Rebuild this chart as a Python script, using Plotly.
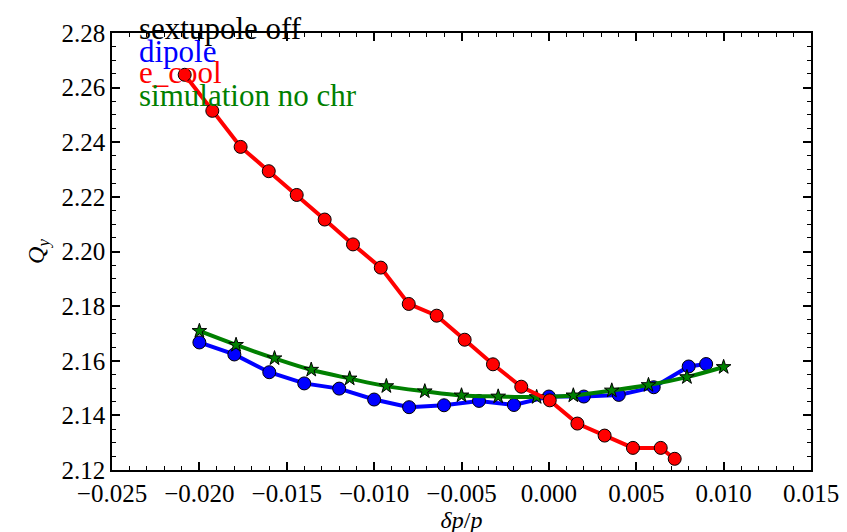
import plotly.graph_objects as go

# dipole (blue)
dip_x = [-0.020, -0.018, -0.016, -0.014, -0.012, -0.010, -0.008, -0.006,
         -0.004, -0.002, 0.000, 0.002, 0.004, 0.006, 0.008, 0.009]
dip_y = [2.1667, 2.1623, 2.1558, 2.1517, 2.1498, 2.1458, 2.1430, 2.1437,
         2.1453, 2.1438, 2.1469, 2.1469, 2.1475, 2.1503, 2.1579, 2.1588]

# e_cool (red)
ec_x = [-0.02084, -0.01926, -0.01764, -0.01603, -0.01443, -0.01283, -0.01121,
        -0.00962, -0.00802, -0.00642, -0.00482, -0.00320, -0.00158, 0.00005,
        0.00163, 0.00319, 0.00481, 0.00640, 0.00720]
ec_y = [2.2647, 2.2515, 2.2383, 2.2294, 2.2207, 2.2117, 2.2026,
        2.1941, 2.1808, 2.1765, 2.1677, 2.1587, 2.1505, 2.1455,
        2.1370, 2.1326, 2.1281, 2.1281, 2.1241]

# simulation no chr (green)
sim_x = [-0.0200, -0.0179, -0.0157, -0.0136, -0.0114, -0.0093, -0.0071, -0.0050,
         -0.0029, -0.0007, 0.0014, 0.0036, 0.0057, 0.0079, 0.0100]
sim_y = [2.1709, 2.1658, 2.1609, 2.1567, 2.1535, 2.1507, 2.1488, 2.1473,
         2.1469, 2.1467, 2.1473, 2.1491, 2.1511, 2.1540, 2.1577]

legend_labels = ["sextupole off", "dipole", "e_cool", "simulation no chr"]
legend_colors = ["#000000", "#0000ff", "#ff0000", "#008000"]
# vertical positions in paper fraction of the plot area
legend_y = [1.010, 0.9575, 0.9088, 0.8563]

x_ticks = [-0.025, -0.020, -0.015, -0.010, -0.005, 0.000, 0.005, 0.010, 0.015]
y_ticks = [2.12, 2.14, 2.16, 2.18, 2.20, 2.22, 2.24, 2.26, 2.28]

FONT = "Liberation Serif, Times New Roman, serif"

fig = go.Figure()
fig.add_trace(go.Scatter(
    x=dip_x, y=dip_y, mode="lines+markers",
    line=dict(color="#0000ff", width=4),
    marker=dict(symbol="circle", size=13, color="#0000ff",
                line=dict(color="black", width=1)),
    showlegend=False))
fig.add_trace(go.Scatter(
    x=sim_x, y=sim_y, mode="lines+markers",
    line=dict(color="#008000", width=4, shape="spline"),
    marker=dict(symbol="star", size=11, color="#008000",
                line=dict(color="black", width=1)),
    showlegend=False))
fig.add_trace(go.Scatter(
    x=ec_x, y=ec_y, mode="lines+markers",
    line=dict(color="#ff0000", width=4),
    marker=dict(symbol="circle", size=13, color="#ff0000",
                line=dict(color="black", width=1)),
    showlegend=False))

for lab, col, yy in zip(legend_labels, legend_colors, legend_y):
    fig.add_annotation(x=-0.02357, y=yy, xref="x", yref="paper", text=lab,
                       showarrow=False, xanchor="left", yanchor="middle",
                       font=dict(family=FONT, size=31, color=col))

axis_common = dict(
    showgrid=False, zeroline=False, showline=True, linecolor="black",
    linewidth=1.5, mirror="ticks", ticks="inside", ticklen=8, tickwidth=1.5,
    tickcolor="black", tickfont=dict(family=FONT, size=25, color="black"),
)

fig.update_xaxes(
    range=[-0.025, 0.015], tickvals=x_ticks, tickformat=".3f",
    title=dict(text="<i>δp</i>/<i>p</i>", font=dict(family=FONT, size=24, color="black"),
               standoff=4),
    minor=dict(dtick=0.001, ticks="inside", ticklen=4, tickcolor="black", tickwidth=1),
    **axis_common)
fig.update_yaxes(
    range=[2.12, 2.28], tickvals=y_ticks, tickformat=".2f",
    title=dict(text="<i>Q</i><sub><i>y</i></sub>", font=dict(family=FONT, size=24, color="black"),
               standoff=10),
    minor=dict(dtick=0.005, ticks="inside", ticklen=4, tickcolor="black", tickwidth=1),
    **axis_common)

fig.update_layout(
    width=847, height=532,
    margin=dict(l=104, r=44, t=16, b=63),
    paper_bgcolor="white", plot_bgcolor="white",
    font=dict(family=FONT, color="black"),
)

fig.write_html("out.html")
